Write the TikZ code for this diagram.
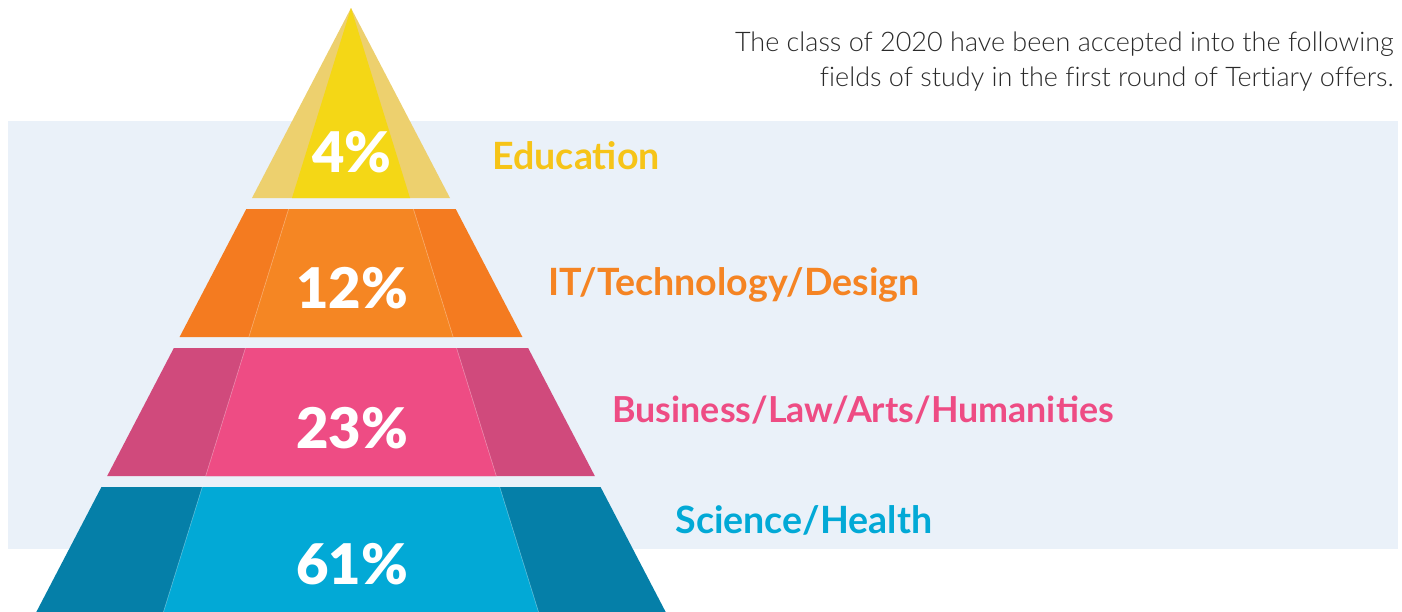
\documentclass[tikz,border=0pt]{standalone}
\usepackage{fontspec}
\setmainfont{Lato}
\newfontfamily\pctfont{Lato Black}
\newfontfamily\lightfont{Lato Light}[Ligatures=NoCommon]
\definecolor{band}{HTML}{EAF1F9}
\definecolor{yelO}{HTML}{EDD06E}
\definecolor{yelI}{HTML}{F4D716}
\definecolor{oraO}{HTML}{F47B20}
\definecolor{oraI}{HTML}{F58623}
\definecolor{pinO}{HTML}{D04A7C}
\definecolor{pinI}{HTML}{EE4C84}
\definecolor{bluO}{HTML}{057FA8}
\definecolor{bluI}{HTML}{02A9D6}
\definecolor{yelT}{HTML}{F6C418}
\definecolor{oraT}{HTML}{F58423}
\definecolor{pinT}{HTML}{EE4C84}
\definecolor{bluT}{HTML}{02A9D6}
\definecolor{txt}{HTML}{2A2A2A}
\newcommand{\tierpoly}[4]{%
  \pgfmathsetmacro{\oa}{0.521*(#1-8)}%
  \pgfmathsetmacro{\ob}{0.521*(#2-8)}%
  \pgfmathsetmacro{\ia}{0.3105*(#1-8)}%
  \pgfmathsetmacro{\ib}{0.3105*(#2-8)}%
  \fill[#3] (351-\oa,#1) -- (351+\oa,#1) -- (351+\ob,#2) -- (351-\ob,#2) -- cycle;
  \fill[#4] (351-\ia,#1) -- (351+\ia,#1) -- (351+\ib,#2) -- (351-\ib,#2) -- cycle;
  \draw[white,opacity=0.35,line width=0.3pt] (351-\ia,#1) -- (351-\ib,#2) (351+\ia,#1) -- (351+\ib,#2);
}
\tikzset{
  pct/.style={text=white,font=\pctfont\fontsize{28pt}{32pt}\selectfont,inner sep=0pt,anchor=base},
  lbl/.style={font=\bfseries\fontsize{18.8pt}{22pt}\selectfont,inner sep=0pt,anchor=base west},
  intro/.style={text=txt,font=\lightfont\fontsize{13.5pt}{16pt}\selectfont,inner sep=0pt,anchor=base east}
}
\begin{document}
\begin{tikzpicture}[x=0.5pt,y=-0.5pt]
\useasboundingbox (0,0) rectangle (1402,611);
\clip (0,0) rectangle (1402,611);
\fill[band] (8,121) rectangle (1398,549);
% yellow tip
\fill[yelO] (351,8) -- (450,198) -- (252,198) -- cycle;
\fill[yelI] (351,8) -- (410,198) -- (292,198) -- cycle;
\tierpoly{209}{337}{oraO}{oraI}
\tierpoly{348}{476}{pinO}{pinI}
\tierpoly{487}{612}{bluO}{bluI}
\node[pct] (p4) at (352,172) {4\%};
\node[pct] (p12) at (352,308) {12\%};
\node[pct] (p23) at (352,448) {23\%};
\node[pct] (p61) at (352,584) {61\%};
\node[lbl,text=yelT] (edu) at (492,169) {Education};
\node[lbl,text=oraT] (it) at (548,295) {IT/Technology/Design};
\node[lbl,text=pinT,font=\bfseries\fontsize{17.9pt}{22pt}\selectfont] (bus) at (612,422) {Business/Law/Arts/Humanities};
\node[lbl,text=bluT] (sci) at (675,533) {Science/Health};
\node[intro] (l1) at (1394,51) {The class of 2020 have been accepted into the following};
\node[intro] (l2) at (1394,86) {fields of study in the first round of Tertiary offers.};
\end{tikzpicture}
\end{document}
